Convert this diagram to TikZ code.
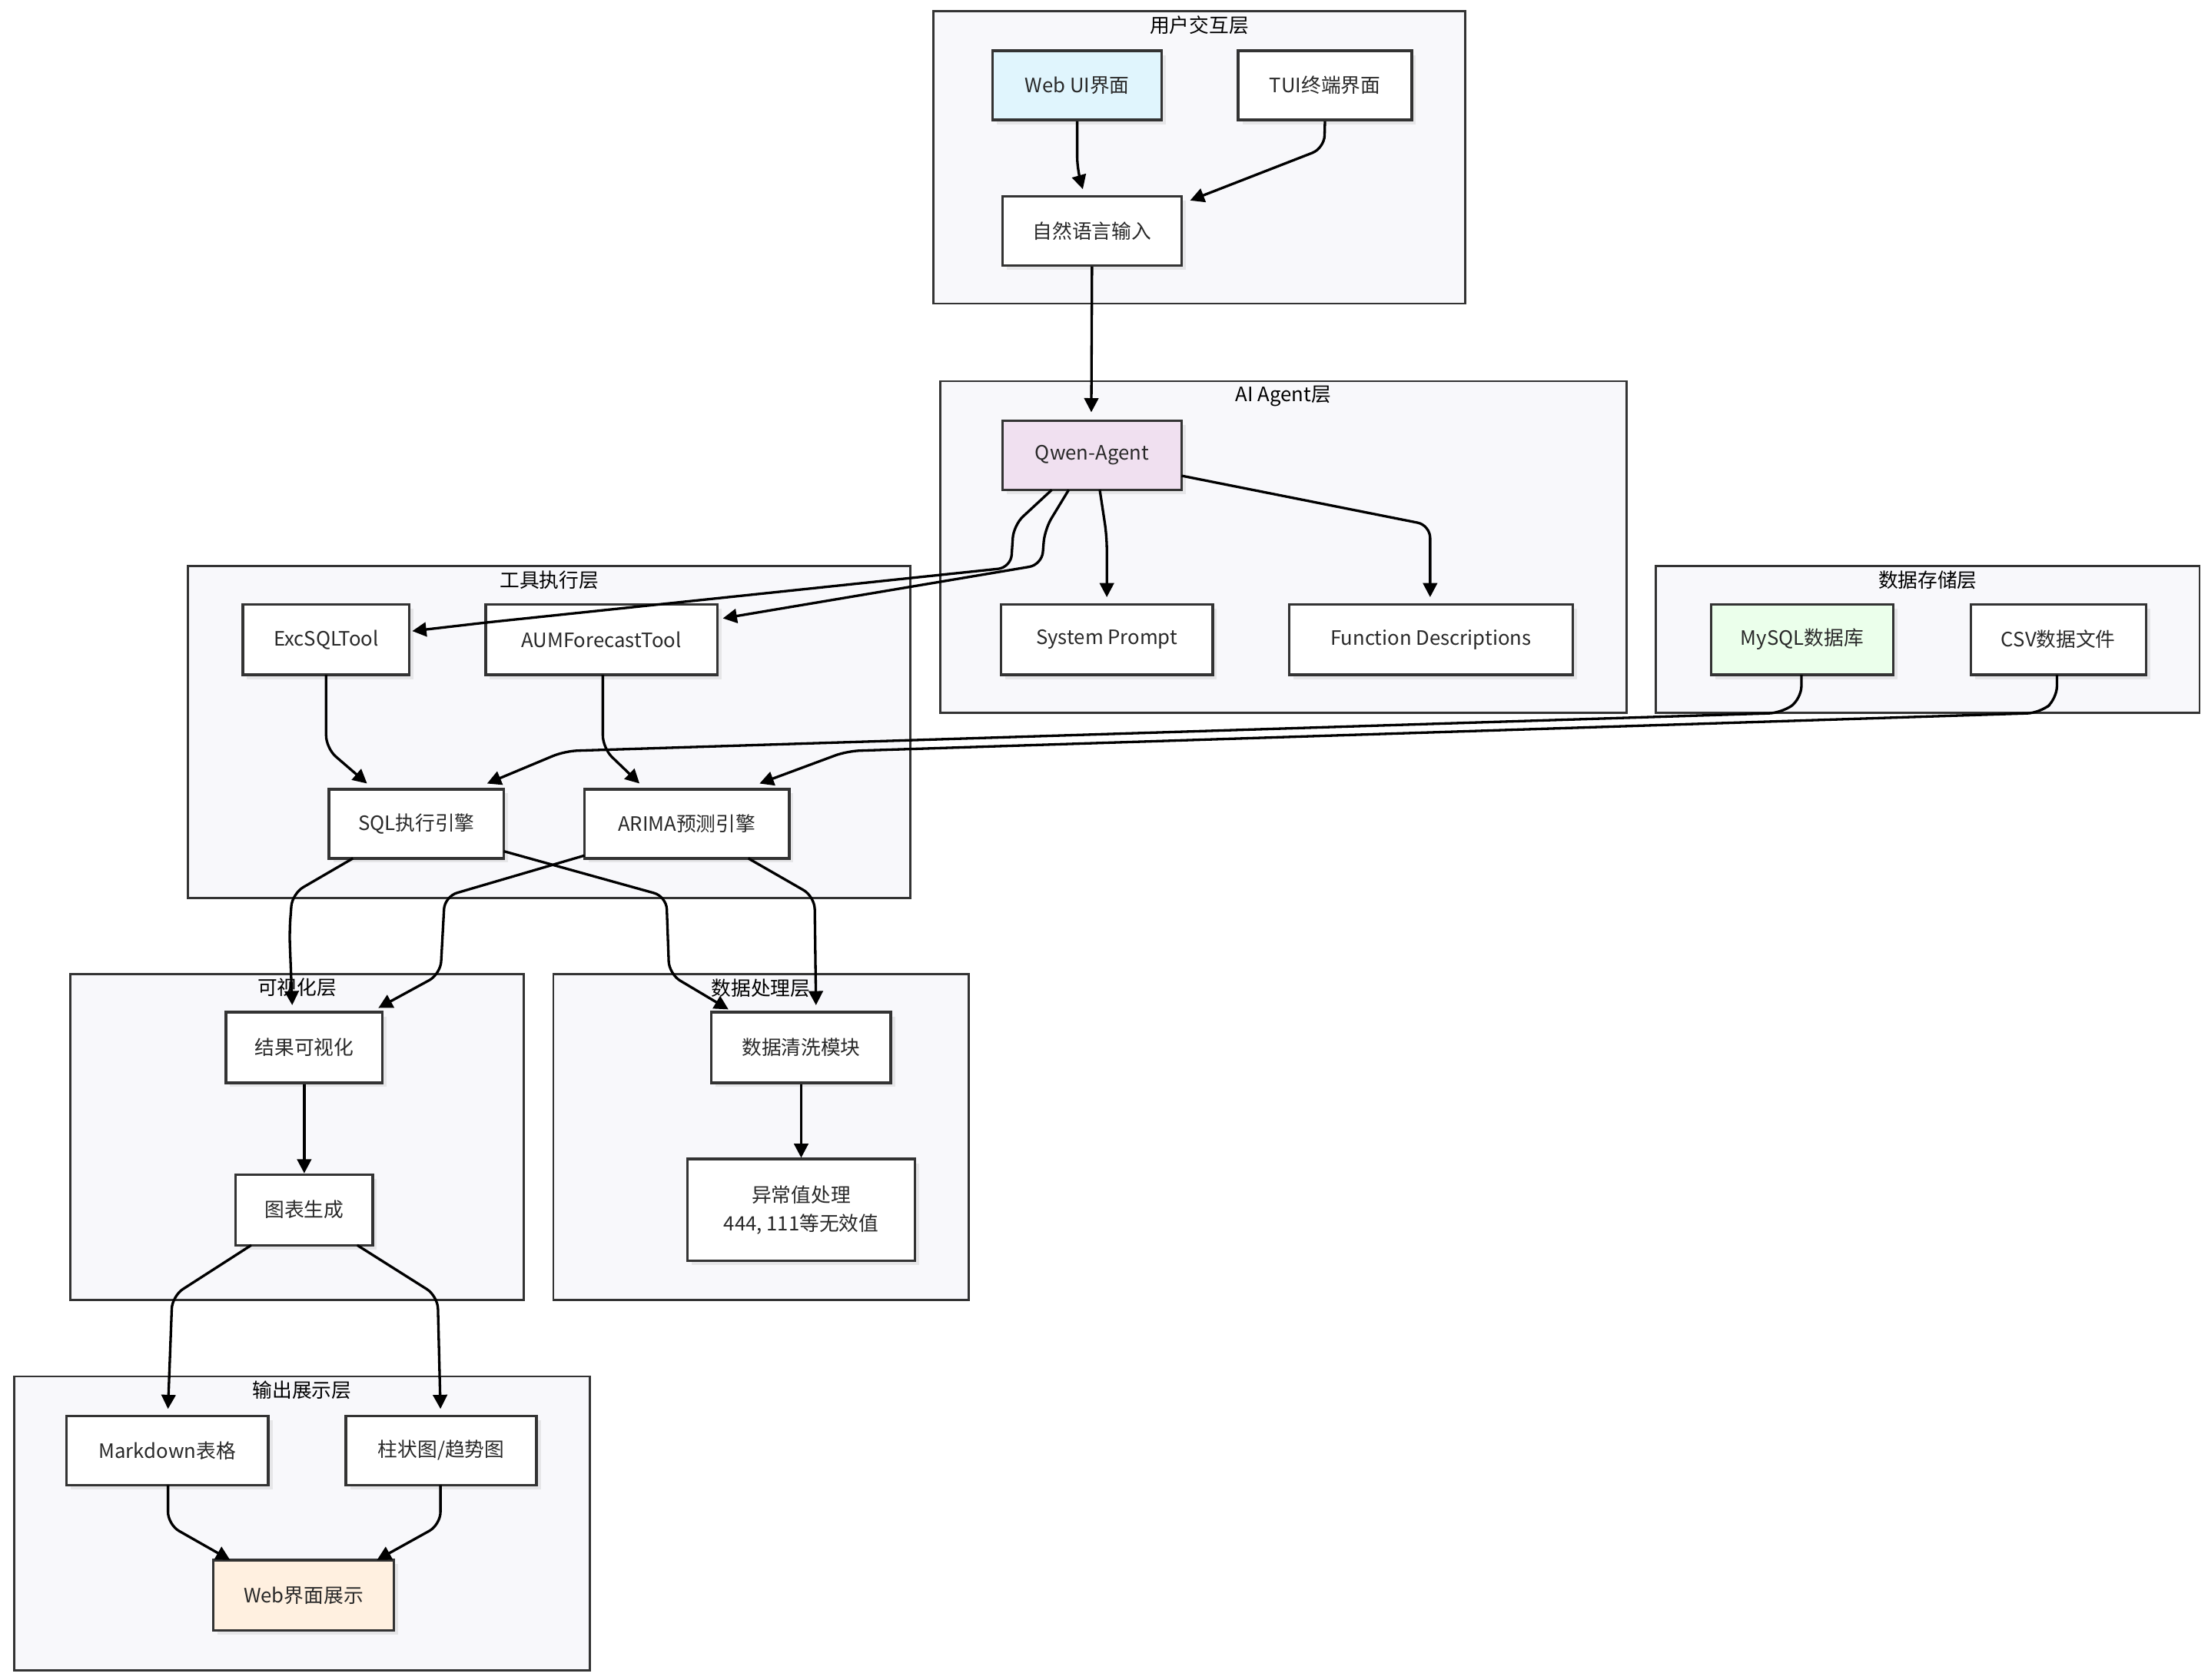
\documentclass[tikz,border=0pt]{standalone}
\usepackage{fontspec}
\setmainfont{Noto Sans CJK SC}
\usetikzlibrary{arrows.meta,shadows}
\definecolor{bd}{HTML}{333333}
\definecolor{cl}{HTML}{F8F8FB}
\begin{document}
\begin{tikzpicture}[x=1pt,y=-1pt,
  clu/.style={draw=bd,fill=cl,line width=1.5pt},
  cll/.style={font=\fontsize{14}{16}\selectfont,anchor=north,inner sep=2pt},
  box/.style={draw=bd,fill=white,line width=1.8pt,font=\fontsize{14}{20}\selectfont,align=center,text=bd!80!black,drop shadow={shadow xshift=3pt,shadow yshift=-3pt,opacity=0.15}},
  e/.style={draw=black,line width=1.8pt,rounded corners=9pt,-{Triangle[length=10pt,width=10pt]}}]
\useasboundingbox (0,0) rectangle (1564,1190);
\fill[white] (0,0) rectangle (1564,1190);
% clusters
\draw[clu] (661,8) rectangle (1038,215); \node[cll] (c1) at (849.5,9) {用户交互层};
\draw[clu] (666,270) rectangle (1152,505); \node[cll] (c2) at (909,271) {AI Agent层};
\draw[clu] (133,401) rectangle (645,636); \node[cll] (c3) at (389,402) {工具执行层};
\draw[clu] (1173,401) rectangle (1558,505); \node[cll] (c4) at (1365.5,402) {数据存储层};
\draw[clu] (50,690) rectangle (371,921); \node[cll] (c5) at (210.5,691) {可视化层};
\draw[clu] (392,690) rectangle (686,921); \node[cll] (c6) at (539,691) {数据处理层};
\draw[clu] (10,975) rectangle (418,1183); \node[cll] (c7) at (214,976) {输出展示层};
% nodes
\newcommand\bx[6][white]{\node[box,fill=#1,minimum width=#4-#2,minimum height=#5-#3] (#6) at ({(#2+#4)/2},{(#3+#5)/2})}
\bx[cyan!12]{703}{36}{823}{85}{webui} {Web UI界面};
\bx{877}{36}{1000}{85}{tui} {TUI终端界面};
\bx{710}{139}{837}{188}{nli} {自然语言输入};
\bx[violet!12]{710}{298}{837}{347}{qwen} {Qwen-Agent};
\bx{709}{428}{859}{478}{sys} {System Prompt};
\bx{913}{428}{1114}{478}{fd} {Function Descriptions};
\bx{172}{428}{290}{478}{exc} {ExcSQLTool};
\bx{344}{428}{508}{478}{aum} {AUMForecastTool};
\bx[green!8]{1212}{428}{1341}{478}{my} {MySQL数据库};
\bx{1396}{428}{1520}{478}{csv} {CSV数据文件};
\bx{233}{559}{357}{608}{sqle} {SQL执行引擎};
\bx{414}{559}{559}{608}{ari} {ARIMA预测引擎};
\bx{160}{717}{271}{767}{vis} {结果可视化};
\bx{167}{832}{264}{882}{cha} {图表生成};
\bx{504}{717}{631}{767}{cle} {数据清洗模块};
\bx{487}{821}{648}{893}{out} {异常值处理\\444, 111等无效值};
\bx{47}{1003}{190}{1052}{md} {Markdown表格};
\bx{245}{1003}{380}{1052}{bar} {柱状图/趋势图};
\bx[orange!12]{151}{1105}{279}{1155}{ws} {Web界面展示};
% edges
\draw[e] (webui.south) -- (763,120) -- (767,134);
\draw[e] (tui.south) -- (938,105) -- (843,142);
\draw[e] (nli.south) -- (773,292);
\draw[e] (745,347) -- (718,372) -- (716,402) -- (344,441) -- (292,447);
\draw[e] (757,347) -- (740,375) -- (738,400) -- (512,438);
\draw[e] (779,347) -- (784,380) -- (784,423);
\draw[e] (837,337) -- (1013,372) -- (1013,423);
\draw[e] (231,478) -- (231,530) -- (260,555);
\draw[e] (427,478) -- (427,530) -- (453,555);
\draw[e] (1276,478) -- (1276,495) -- (1262,505) -- (400,532) -- (345,555);
\draw[e] (1457,478) -- (1457,495) -- (1445,505) -- (600,532) -- (538,555);
\draw[e] (250,608) -- (207,633) -- (205,660) -- (207,712);
\draw[e] (357,603) -- (472,635) -- (474,690) -- (516,715);
\draw[e] (414,606) -- (315,635) -- (312,690) -- (268,714);
\draw[e] (530,608) -- (577,635) -- (578,712);
\draw[e] (vis.south) -- (cha.north);
\draw[e] (cle.south) -- (out.north);
\draw[e] (178,882) -- (122,918) -- (119,998);
\draw[e] (253,882) -- (310,918) -- (312,998);
\draw[e] (119,1052) -- (119,1080) -- (163,1105);
\draw[e] (312,1052) -- (312,1080) -- (267,1105);
\end{tikzpicture}
\end{document}
